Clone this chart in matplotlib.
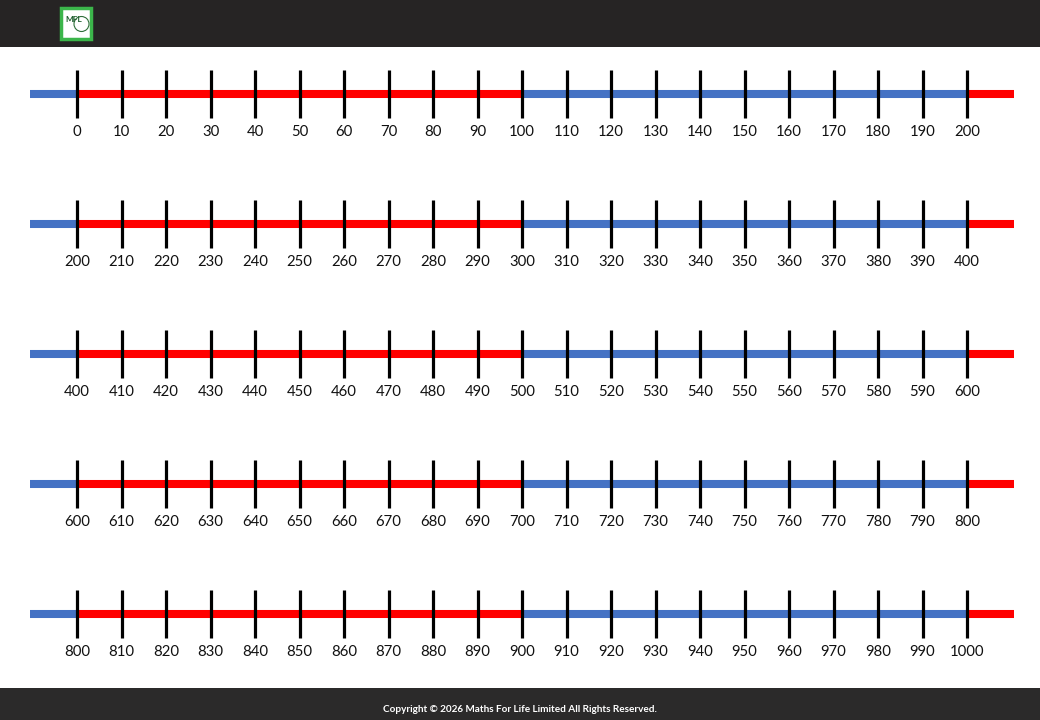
import matplotlib.pyplot as plt
from matplotlib.patches import Rectangle, Ellipse

plt.rcParams['font.family'] = ['Lato', 'DejaVu Sans']

# one number line per row, each covering 200 in steps of 10
row_starts = [0, 200, 400, 600, 800]
tick_offsets = list(range(0, 201, 10))
# coloured parts of each line, as offsets from the row start
segment_ranges = [(-10.5, 0), (0, 100), (100, 200), (200, 210.5)]
segment_colors = ['#4472C4', '#FF0000', '#4472C4', '#FF0000']
copyright_text = 'Copyright \u00a9 2026 Maths For Life Limited All Rights Reserved.'

W, H = 1040, 720
fig = plt.figure(figsize=(W / 100, H / 100), dpi=100)
fig.patch.set_facecolor('white')

# pixel layout: offset 0 at x=77, offset 200 at x=967, rows 130 px apart from y=94
px_per_unit = (967 - 77) / 200
row_px = 130
ax = fig.add_axes([0, 0, 1, 1])
ax.set_xlim(-77 / px_per_unit, (W - 77) / px_per_unit)
ax.set_ylim((H - 94) / row_px, -94 / row_px)
ax.axis('off')

tick_half = 24 / row_px
label_gap = 37.5 / row_px

for row, start in enumerate(row_starts):
    for (a, b), c in zip(segment_ranges, segment_colors):
        ax.plot([a, b], [row, row], color=c, lw=5.8, solid_capstyle='butt', zorder=2)
    ax.vlines(tick_offsets, row - tick_half, row + tick_half, color='black', lw=2.3, zorder=3)
    for off in tick_offsets:
        ax.text(off, row + label_gap, str(start + off), ha='center', va='center',
                fontsize=10.7, color='#111111')

# dark bands top and bottom
fig.patches.append(Rectangle((0, 1 - 47 / H), 1, 47 / H, transform=fig.transFigure,
                             facecolor='#262424', edgecolor='none', zorder=1))
fig.patches.append(Rectangle((0, 0), 1, 32 / H, transform=fig.transFigure,
                             facecolor='#2b2a2a', edgecolor='none', zorder=1))

# logo
fig.patches.append(Rectangle((61 / W, 1 - 39 / H), 30 / W, 31 / H, transform=fig.transFigure,
                             facecolor='white', edgecolor='#3bb54a', lw=2.5, zorder=2))
fig.patches.append(Ellipse((81.5 / W, 1 - 24 / H), 15 / W, 15 / H, transform=fig.transFigure,
                           facecolor='none', edgecolor='#2f6f3a', lw=0.8, zorder=3))
fig.text(74 / W, 1 - 20 / H, 'MFL', ha='center', va='center', fontsize=6,
         fontweight='bold', color='#1f5f2e', zorder=4)

fig.text(0.5, 11 / H, copyright_text, ha='center', va='center', fontsize=7.2,
         fontweight='bold', color='white')

fig.savefig('out.png', dpi=100, facecolor=fig.get_facecolor())
